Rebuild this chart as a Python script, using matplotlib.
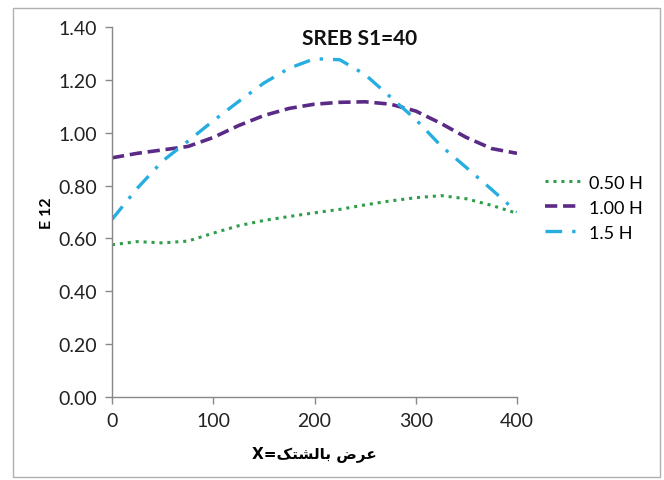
import matplotlib
matplotlib.use("Agg")
import matplotlib.pyplot as plt
from matplotlib.patches import Rectangle

# Distance across the section (x) and E12 values for each depth
x = [0, 25, 50, 75, 100, 125, 150, 175, 200, 225, 250, 275, 300, 325, 350, 375, 400]
e12_050H = [0.576, 0.588, 0.583, 0.590, 0.620, 0.648, 0.668, 0.683, 0.697,
            0.710, 0.727, 0.742, 0.754, 0.762, 0.750, 0.725, 0.695]
e12_100H = [0.905, 0.922, 0.935, 0.948, 0.982, 1.027, 1.065, 1.092, 1.108,
            1.115, 1.117, 1.108, 1.082, 1.035, 0.982, 0.940, 0.922]
e12_150H = [0.672, 0.790, 0.893, 0.968, 1.045, 1.118, 1.188, 1.244, 1.280,
            1.276, 1.220, 1.135, 1.050, 0.950, 0.868, 0.785, 0.700]

series_labels = ["0.50 H", "1.00 H", "1.5 H"]
x_ticks = [0, 100, 200, 300, 400]
y_ticks = [0.0, 0.2, 0.4, 0.6, 0.8, 1.0, 1.2, 1.4]

title = "SREB S1=40"
ylabel = "E 12"
# "عرض بالشتک=X" written in shaped presentation forms, in visual order
xlabel = "X=\uFB8F\uFE98\uFEB8\uFEDF\uFE8E\uFE91 \uFEBD\uFEAE\uFECB"

font = ["Lato", "DejaVu Sans"]
plt.rcParams["font.family"] = font

fig = plt.figure(figsize=(6.64, 4.81), dpi=100)
fig.patches.append(Rectangle((13 / 664, 3 / 481), 647 / 664, 469 / 481,
                             transform=fig.transFigure, fill=False,
                             edgecolor="#b0b0b0", linewidth=1.0))

ax = fig.add_axes([112 / 664, 83 / 481, 405 / 664, 370 / 481])

ax.plot(x, e12_050H, color="#2e9e4a", linestyle=(0, (1, 1.6)), linewidth=2.2,
        label=series_labels[0])
ax.plot(x, e12_100H, color="#5a2a86", linestyle=(0, (3.4, 1.6)), linewidth=2.6,
        label=series_labels[1])
ax.plot(x, e12_150H, color="#27aee0", linestyle=(0, (5, 3, 1, 3)), linewidth=2.4,
        label=series_labels[2])

ax.set_xlim(0, 400)
ax.set_ylim(0, 1.4)
ax.set_xticks(x_ticks)
ax.set_yticks(y_ticks)
ax.set_xticklabels([str(v) for v in x_ticks])
ax.set_yticklabels([f"{v:.2f}" for v in y_ticks])

for side in ("top", "right"):
    ax.spines[side].set_visible(False)
for side in ("left", "bottom"):
    ax.spines[side].set_color("#888888")
    ax.spines[side].set_linewidth(1.0)
ax.tick_params(axis="both", direction="out", length=5, width=1.0,
               color="#888888", labelsize=14, labelcolor="#222222", pad=6)

fig.text(360 / 664, 1 - 39 / 481, title, ha="center", va="center",
         fontsize=15, fontweight="bold", color="#111111")
ax.set_ylabel(ylabel, fontsize=11.5, fontweight="bold", labelpad=3)
ax.set_xlabel(xlabel, fontsize=11, fontweight="bold", labelpad=11,
              family=["DejaVu Sans"])

ax.legend(loc="upper left", bbox_to_anchor=(1.03, 0.645), frameon=False,
          fontsize=13, handlelength=1.9, handletextpad=0.5, labelspacing=0.5)

fig.savefig("out.png", dpi=100)
